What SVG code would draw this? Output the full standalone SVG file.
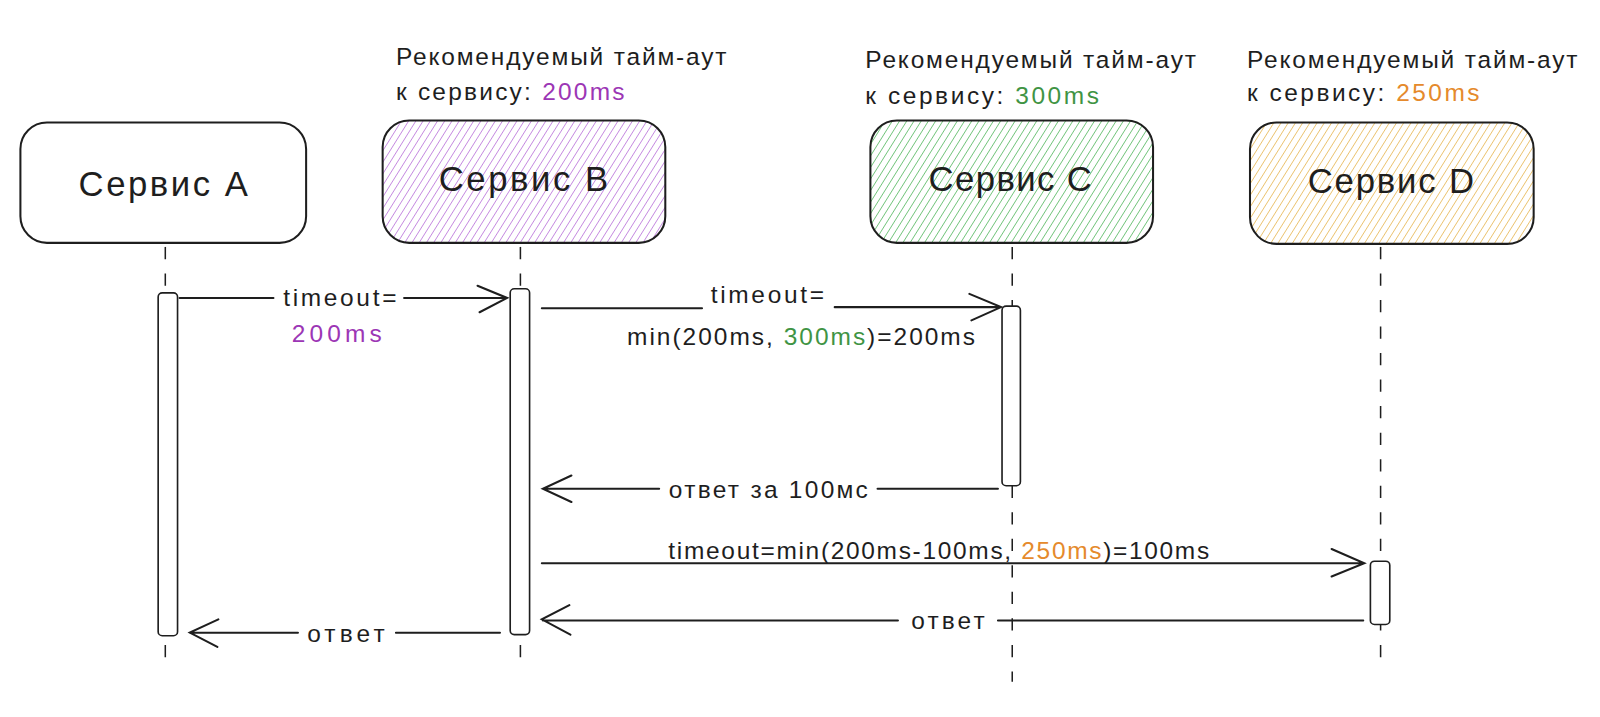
<svg xmlns="http://www.w3.org/2000/svg" width="1600" height="717" viewBox="0 0 1600 717">
<style>
text{font-family:"Liberation Sans","Noto Sans",sans-serif;fill:#1e1e1e}
.box{stroke:#1e1e1e;stroke-width:2}
.nm{font-size:34px;text-anchor:middle}
.lb{font-size:24px}
.lbc{font-size:24px;text-anchor:middle}
.life{stroke:#1e1e1e;stroke-width:1.5;stroke-dasharray:12 14;fill:none}
.bar{fill:#fff;stroke:#1e1e1e;stroke-width:1.6}
.ln{stroke:#1e1e1e;stroke-width:2;fill:none;stroke-linecap:round}
.pu{fill:#9c36b5}.gr{fill:#3f9444}.or{fill:#e58a2c}
</style>
<defs>
<pattern id="hB" patternUnits="userSpaceOnUse" width="6" height="6" patternTransform="rotate(32)"><line x1="0" y1="0" x2="0" y2="6" stroke="#b266d6" stroke-width="1.3"/></pattern>
<pattern id="hC" patternUnits="userSpaceOnUse" width="6" height="6" patternTransform="rotate(32)"><line x1="0" y1="0" x2="0" y2="6" stroke="#45b151" stroke-width="1.3"/></pattern>
<pattern id="hD" patternUnits="userSpaceOnUse" width="6" height="6" patternTransform="rotate(32)"><line x1="0" y1="0" x2="0" y2="6" stroke="#e5b041" stroke-width="1.3"/></pattern>
</defs>
<rect width="1600" height="717" fill="#fff"/>
<g transform="scale(1.0204)">
<g id="lifelines">
<line class="life" x1="162" y1="242" x2="162" y2="655"/>
<line class="life" x1="510" y1="242" x2="510" y2="655"/>
<line class="life" x1="992" y1="242" x2="992" y2="668"/>
<line class="life" x1="1353" y1="242" x2="1353" y2="648"/>
</g>

<g id="serviceA">
<rect class="box" x="20" y="120" width="280" height="118" rx="26" fill="#fff"/>
<text class="nm" x="160" y="192" textLength="166">Сервис A</text>
</g>
<g id="serviceB">
<rect class="box" x="375" y="118" width="277" height="120" rx="26" fill="url(#hB)"/>
<text class="nm" x="513" y="187" textLength="166">Сервис B</text>
<text class="lb" x="388" y="64" textLength="324">Рекомендуемый тайм-аут</text>
<text class="lb" x="388" y="98" textLength="224">к сервису: <tspan class="pu">200ms</tspan></text>
</g>
<g id="serviceC">
<rect class="box" x="853" y="118" width="277" height="120" rx="26" fill="url(#hC)"/>
<text class="nm" x="990" y="187" textLength="160">Сервис C</text>
<text class="lb" x="848" y="67" textLength="324">Рекомендуемый тайм-аут</text>
<text class="lb" x="848" y="102" textLength="229">к сервису: <tspan class="gr">300ms</tspan></text>
</g>
<g id="serviceD">
<rect class="box" x="1225" y="120" width="278" height="119" rx="26" fill="url(#hD)"/>
<text class="nm" x="1363" y="189" textLength="163">Сервис D</text>
<text class="lb" x="1222" y="67" textLength="324">Рекомендуемый тайм-аут</text>
<text class="lb" x="1222" y="99" textLength="228">к сервису: <tspan class="or">250ms</tspan></text>
</g>

<g id="activations">
<rect class="bar" x="155" y="287" width="19" height="336" rx="4"/>
<rect class="bar" x="500" y="283" width="19" height="339" rx="4"/>
<rect class="bar" x="982" y="300" width="18" height="176" rx="4"/>
<rect class="bar" x="1343" y="550" width="19" height="62" rx="4"/>
</g>

<g id="connectors">
<path class="ln" d="M176 292 H268 M396 292 H496 M468 280 L497 292 L470 306"/>
<path class="ln" d="M531 302 H688 M818 301 H980 M950 288 L981 301 L952 314"/>
<path class="ln" d="M978 479 H860 M646 479 H533 M560 466 L532 479 L560 492"/>
<path class="ln" d="M531 552 H1337 M1305 538 L1337 552 L1305 565"/>
<path class="ln" d="M1336 608 H978 M880 608 H532 M558 593 L531 607 L559 622"/>
<path class="ln" d="M490 620 H388 M292 620 H186 M214 607 L186 620 L213 634"/>
</g>

<g id="labels">
<text class="lbc" x="333" y="300" textLength="111">timeout=</text>
<text class="lbc pu" x="330" y="335" textLength="88">200ms</text>
<text class="lbc" x="752" y="297" textLength="111">timeout=</text>
<text class="lbc" x="785" y="338" textLength="341">min(200ms, <tspan class="gr">300ms</tspan>)=200ms</text>
<text class="lbc" x="753" y="488" textLength="195">ответ за 100мс</text>
<text class="lbc" x="920" y="548" textLength="530">timeout=min(200ms-100ms, <tspan class="or">250ms</tspan>)=100ms</text>
<text class="lbc" x="929" y="616" textLength="72">ответ</text>
<text class="lbc" x="339" y="629" textLength="76">ответ</text>
</g>
</g>
</svg>
